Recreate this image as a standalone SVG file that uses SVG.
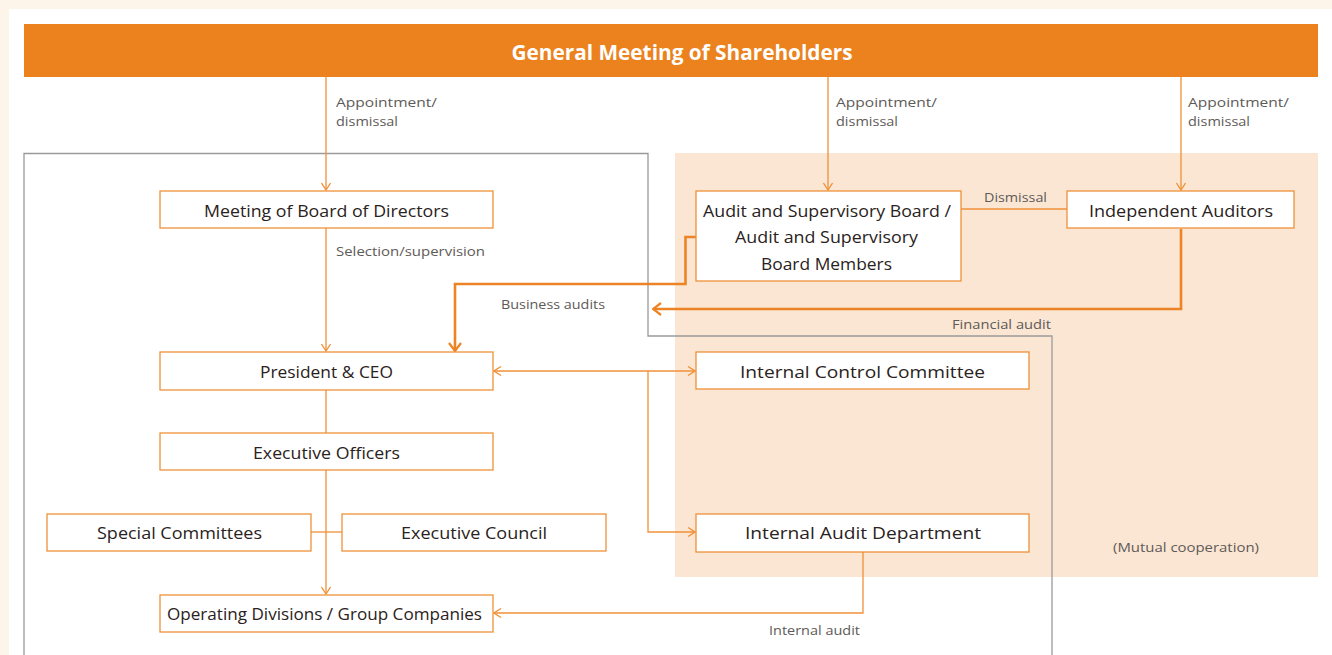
<svg xmlns="http://www.w3.org/2000/svg" width="1332" height="655" viewBox="0 0 1332 655">
<style>
.box{fill:#fff;stroke:#ef9138;stroke-width:1.3}
.t{font-family:"Open Sans","Liberation Sans",sans-serif;font-size:17px;fill:#2a2220;text-anchor:middle}
.s{font-family:"Open Sans","Liberation Sans",sans-serif;font-size:13.5px;fill:#5e5a58}
.ln{fill:none;stroke:#ef9138;stroke-width:1.3}
.thick{fill:none;stroke:#ec8425;stroke-width:2.6}
</style>
<defs>
<marker id="a" viewBox="-8 -5 9 10" refX="0" refY="0" markerWidth="9" markerHeight="10" markerUnits="userSpaceOnUse" orient="auto-start-reverse">
<path d="M-7,-4.5 L0,0 L-7,4.5" fill="none" stroke="#ef9138" stroke-width="1.3"/>
</marker>
<marker id="b" viewBox="-10 -7 11 14" refX="0" refY="0" markerWidth="11" markerHeight="14" markerUnits="userSpaceOnUse" orient="auto">
<path d="M-8,-6 L0,0 L-8,6" fill="none" stroke="#ec8425" stroke-width="2.2"/>
</marker>
</defs>
<rect x="0" y="0" width="1332" height="655" fill="#fdf4ea"/>
<rect x="9" y="9" width="1323" height="646" fill="#fff"/>
<rect x="675" y="153" width="643" height="424" fill="#fbe6d3"/>
<path d="M24,655 V153.5 H648 V336 H1052 V655" fill="none" stroke="#9a9a9a" stroke-width="1.3"/>

<g id="connectors">
<path class="ln" d="M326,77 V190" marker-end="url(#a)"/>
<path class="ln" d="M828,77 V190" marker-end="url(#a)"/>
<path class="ln" d="M1181,77 V190" marker-end="url(#a)"/>
<path class="ln" d="M961,209 H1067"/>
<path class="ln" d="M326,228 V351" marker-end="url(#a)"/>
<path class="thick" d="M696,237 H685.5 V284 H455 V351" marker-end="url(#b)"/>
<path class="thick" d="M1181,229 V309 H653" marker-end="url(#b)"/>
<path class="ln" d="M494,371 H695" marker-start="url(#a)" marker-end="url(#a)"/>
<path class="ln" d="M648,371 V532 H695" marker-end="url(#a)"/>
<path class="ln" d="M326,390 V433"/>
<path class="ln" d="M326,470 V594" marker-end="url(#a)"/>
<path class="ln" d="M311,532 H342"/>
<path class="ln" d="M863,552 V613 H494" marker-end="url(#a)"/>
</g>

<g id="shareholders">
<rect x="24" y="24" width="1294" height="53" fill="#eb821e"/>
<text x="682" y="60" font-family="'Open Sans','Liberation Sans',sans-serif" font-size="20.5px" font-weight="bold" fill="#fff" text-anchor="middle" textLength="341" lengthAdjust="spacingAndGlyphs">General Meeting of Shareholders</text>
</g>

<g id="labels">
<text class="s" x="336" y="107" textLength="101" lengthAdjust="spacingAndGlyphs">Appointment/</text>
<text class="s" x="336" y="126" textLength="62" lengthAdjust="spacingAndGlyphs">dismissal</text>
<text class="s" x="836" y="107" textLength="101" lengthAdjust="spacingAndGlyphs">Appointment/</text>
<text class="s" x="836" y="126" textLength="62" lengthAdjust="spacingAndGlyphs">dismissal</text>
<text class="s" x="1188" y="107" textLength="101" lengthAdjust="spacingAndGlyphs">Appointment/</text>
<text class="s" x="1188" y="126" textLength="62" lengthAdjust="spacingAndGlyphs">dismissal</text>
<text class="s" x="336" y="256" textLength="149" lengthAdjust="spacingAndGlyphs">Selection/supervision</text>
<text class="s" x="984" y="202" textLength="63" lengthAdjust="spacingAndGlyphs">Dismissal</text>
<text class="s" x="501" y="309" textLength="104" lengthAdjust="spacingAndGlyphs">Business audits</text>
<text class="s" x="952" y="329" textLength="99" lengthAdjust="spacingAndGlyphs">Financial audit</text>
<text class="s" x="1113" y="552" textLength="146" lengthAdjust="spacingAndGlyphs">(Mutual cooperation)</text>
<text class="s" x="769" y="635" textLength="91" lengthAdjust="spacingAndGlyphs">Internal audit</text>
</g>

<g id="board">
<rect class="box" x="160" y="191" width="333" height="37"/>
<text class="t" x="326.5" y="217" textLength="245" lengthAdjust="spacingAndGlyphs">Meeting of Board of Directors</text>
</g>
<g id="audit-board">
<rect class="box" x="696" y="191" width="265" height="90"/>
<text class="t" x="827" y="217" textLength="248" lengthAdjust="spacingAndGlyphs">Audit and Supervisory Board /</text>
<text class="t" x="826.5" y="243" textLength="183" lengthAdjust="spacingAndGlyphs">Audit and Supervisory</text>
<text class="t" x="826.5" y="270" textLength="131" lengthAdjust="spacingAndGlyphs">Board Members</text>
</g>
<g id="independent-auditors">
<rect class="box" x="1067" y="191" width="227" height="37"/>
<text class="t" x="1181" y="217" textLength="184" lengthAdjust="spacingAndGlyphs">Independent Auditors</text>
</g>
<g id="president">
<rect class="box" x="160" y="352" width="333" height="38"/>
<text class="t" x="326.5" y="378" textLength="133" lengthAdjust="spacingAndGlyphs">President &amp; CEO</text>
</g>
<g id="internal-control">
<rect class="box" x="696" y="352" width="333" height="37"/>
<text class="t" x="862.5" y="378" font-size="19px" textLength="245" lengthAdjust="spacingAndGlyphs">Internal Control Committee</text>
</g>
<g id="executive-officers">
<rect class="box" x="160" y="433" width="333" height="37"/>
<text class="t" x="326.5" y="459" textLength="147" lengthAdjust="spacingAndGlyphs">Executive Officers</text>
</g>
<g id="special-committees">
<rect class="box" x="47" y="514" width="264" height="37"/>
<text class="t" x="179.5" y="539" textLength="165" lengthAdjust="spacingAndGlyphs">Special Committees</text>
</g>
<g id="executive-council">
<rect class="box" x="342" y="514" width="264" height="37"/>
<text class="t" x="474" y="539" textLength="146" lengthAdjust="spacingAndGlyphs">Executive Council</text>
</g>
<g id="internal-audit-dept">
<rect class="box" x="696" y="514" width="333" height="38"/>
<text class="t" x="863" y="539" font-size="19px" textLength="236" lengthAdjust="spacingAndGlyphs">Internal Audit Department</text>
</g>
<g id="operating-divisions">
<rect class="box" x="160" y="595" width="333" height="37"/>
<text class="t" x="324.5" y="620" textLength="315" lengthAdjust="spacingAndGlyphs">Operating Divisions / Group Companies</text>
</g>
</svg>
